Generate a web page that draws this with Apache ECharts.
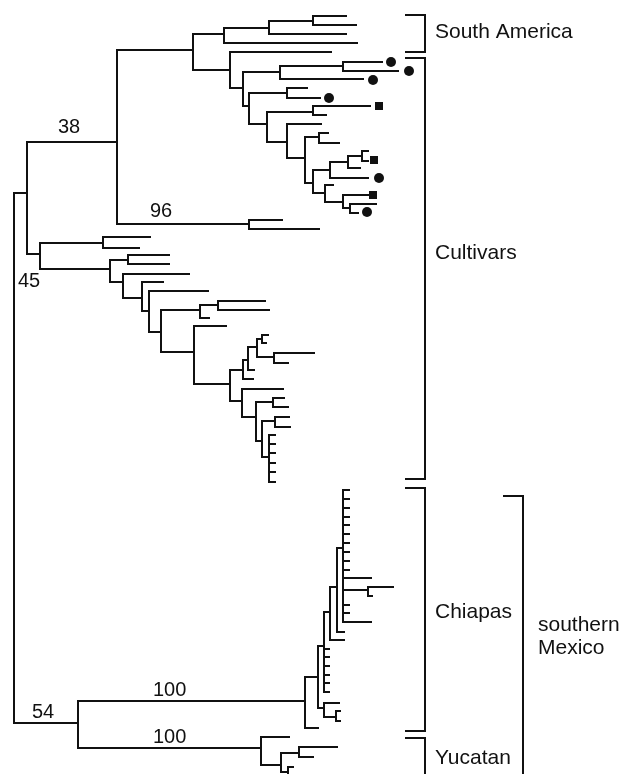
<!DOCTYPE html>
<html>
<head>
<meta charset="utf-8">
<script src="https://cdn.jsdelivr.net/npm/echarts@6.0.0/dist/echarts.min.js"></script>
<style>
  html, body {margin: 0; padding: 0; background: #fff;}
  #tree {width: 622px; height: 774px;}
</style>
</head>
<body>
<div id="tree"></div>
<script>
// each node: [id, parent id, branch end x, row y]; leaves have no id
var backbone = [
  ['root', '', 14, 458],
  ['a', 'root', 27, 193],
  ['b', 'a', 117, 142],
  ['c', 'a', 40, 254],
  ['mx', 'root', 78, 723]
];
var southAmerica = [
  ['p', 'b', 193, 50],
  ['sa', 'p', 224, 34],
  ['sa1', 'sa', 269, 28],
  ['sa2', 'sa1', 313, 21],
  ['', 'sa2', 346, 16], ['', 'sa2', 356, 25],
  ['', 'sa1', 346, 34],
  ['', 'sa', 357, 43]
];
var cultivarsUpper = [
  ['q', 'p', 230, 70],
  ['', 'q', 331, 52],
  ['s', 'q', 243, 88],
  ['t', 's', 280, 72],
  ['t1', 't', 343, 66], ['', 't1', 382, 62], ['', 't1', 398, 71],
  ['', 't', 363, 79],
  ['u', 's', 249, 106],
  ['u1', 'u', 287, 93], ['', 'u1', 307, 88], ['', 'u1', 320, 98],
  ['v', 'u', 267, 124],
  ['v1', 'v', 313, 112], ['', 'v1', 370, 106], ['', 'v1', 326, 115],
  ['w', 'v', 287, 142],
  ['', 'w', 321, 124],
  ['x', 'w', 305, 158],
  ['x1', 'x', 319, 137], ['', 'x1', 328, 133], ['', 'x1', 339, 143],
  ['y', 'x', 313, 183],
  ['z', 'y', 330, 170],
  ['z1', 'z', 348, 162],
  ['z2', 'z1', 362, 156], ['', 'z2', 368, 151], ['', 'z2', 368, 161],
  ['', 'z1', 360, 168],
  ['', 'z', 368, 178],
  ['y2', 'y', 325, 193],
  ['', 'y2', 333, 185],
  ['y3', 'y2', 343, 202],
  ['', 'y3', 372, 195],
  ['y4', 'y3', 350, 208], ['', 'y4', 376, 204], ['', 'y4', 358, 213],
  ['b96', 'b', 249, 224], ['', 'b96', 282, 220], ['', 'b96', 319, 229]
];
var cultivarsLower = [
  ['c1', 'c', 103, 243], ['', 'c1', 150, 237], ['', 'c1', 139, 248],
  ['d', 'c', 110, 269],
  ['d1', 'd', 128, 260], ['', 'd1', 169, 255], ['', 'd1', 169, 264],
  ['e', 'd', 123, 282], ['', 'e', 189, 274],
  ['f', 'e', 142, 298], ['', 'f', 163, 282],
  ['g', 'f', 149, 311], ['', 'g', 208, 291],
  ['h', 'g', 161, 332],
  ['i', 'h', 200, 310],
  ['i1', 'i', 218, 305], ['', 'i1', 265, 301], ['', 'i1', 269, 310],
  ['', 'i', 209, 318],
  ['j', 'h', 194, 352], ['', 'j', 226, 326],
  ['k', 'j', 230, 384],
  ['l', 'k', 243, 370],
  ['m', 'l', 248, 360],
  ['n', 'm', 257, 347],
  ['o', 'n', 262, 339], ['', 'o', 268, 335], ['', 'o', 266, 343],
  ['n2', 'n', 274, 357], ['', 'n2', 314, 353], ['', 'n2', 288, 363],
  ['', 'm', 254, 370],
  ['', 'l', 253, 379],
  ['p2', 'k', 242, 401], ['', 'p2', 283, 389],
  ['q2', 'p2', 256, 417],
  ['q3', 'q2', 273, 402], ['', 'q3', 284, 398], ['', 'q3', 288, 407],
  ['r2', 'q2', 262, 441],
  ['r3', 'r2', 275, 421], ['', 'r3', 289, 417], ['', 'r3', 290, 427],
  ['s2', 'r2', 269, 457],
  ['', 's2', 275, 435], ['', 's2', 275, 444], ['', 's2', 275, 453],
  ['', 's2', 275, 463], ['', 's2', 275, 472], ['', 's2', 275, 482]
];
var chiapas = [
  ['ch0', 'mx', 305, 701],
  ['ch1', 'ch0', 318, 677],
  ['', 'ch0', 318, 728],
  ['ch2', 'ch1', 324, 646],
  ['ch3', 'ch2', 330, 612],
  ['ch4', 'ch3', 337, 587],
  ['ch5', 'ch4', 343, 548],
  ['', 'ch5', 349, 490], ['', 'ch5', 349, 499], ['', 'ch5', 349, 508],
  ['', 'ch5', 349, 517], ['', 'ch5', 349, 525], ['', 'ch5', 349, 534],
  ['', 'ch5', 349, 543], ['', 'ch5', 349, 552], ['', 'ch5', 349, 561],
  ['', 'ch5', 349, 570], ['', 'ch5', 371, 578],
  ['ch6', 'ch5', 368, 590], ['', 'ch6', 393, 587], ['', 'ch6', 372, 596],
  ['', 'ch5', 349, 605], ['', 'ch5', 349, 613], ['', 'ch5', 371, 622],
  ['', 'ch4', 344, 632],
  ['', 'ch3', 344, 640],
  ['', 'ch2', 329, 649], ['', 'ch2', 329, 657], ['', 'ch2', 329, 666],
  ['', 'ch2', 329, 675], ['', 'ch2', 329, 683], ['', 'ch2', 329, 692],
  ['chd', 'ch1', 324, 708], ['', 'chd', 339, 703],
  ['che', 'chd', 336, 717], ['', 'che', 340, 711], ['', 'che', 340, 721]
];
var yucatan = [
  ['yu0', 'mx', 261, 748], ['', 'yu0', 289, 737],
  ['yu1', 'yu0', 281, 765],
  ['yu2', 'yu1', 299, 753], ['', 'yu2', 337, 747], ['', 'yu2', 313, 757],
  ['yu3', 'yu1', 288, 772], ['', 'yu3', 293, 767], ['', 'yu3', 293, 778]
];

// bootstrap support on branches
var supportNode = ['b', 'b96', 'c', 'mx', 'ch0', 'yu0'];
var supportValue = ['38', '96', '45', '54', '100', '100'];

// tip markers
var circleTips = [[391, 62], [409, 71], [373, 80], [329, 98], [379, 178], [367, 212]];
var squareTips = [[379, 106], [374, 160], [373, 195]];

// brackets on the right (tip rows covered)
var groupNames = ['South America', 'Cultivars', 'Chiapas', 'Yucatan', 'southern\nMexico'];
var groupFrom = [15, 58, 488, 738, 496];
var groupTo = [52, 479, 731, 800, 800];
var groupLevel = [0, 0, 0, 0, 1];

// layout only
var supportOffset = [[31, -15], [33, -13], [-9, 27], [18, -11], [75, -11], [75, -11]];
var groupLabelRow = [32, 253, 612, 758, 637];
var bracketX = [[405, 425], [503, 523]];
var groupLabelX = [435, 538];
var FONT = '"Liberation Sans", Arial, Helvetica, sans-serif';

var nodes = backbone.concat(southAmerica, cultivarsUpper, cultivarsLower, chiapas, yucatan);
var byId = {};
nodes.forEach(function (n) {
  if (n[0]) byId[n[0]] = {x: n[2], y: n[3], ys: []};
});
nodes.forEach(function (n) {
  if (n[1]) byId[n[1]].ys.push(n[3]);
});

var segments = [];
nodes.forEach(function (n) {
  if (n[1]) {
    segments.push([byId[n[1]].x, n[3], n[2], n[3]]);
  }
  if (n[0] && byId[n[0]].ys.length) {
    var ys = byId[n[0]].ys;
    segments.push([n[2], Math.min.apply(null, ys), n[2], Math.max.apply(null, ys)]);
  }
});

var supportData = supportNode.map(function (id, i) {
  var parentId = nodes.filter(function (n) { return n[0] === id; })[0][1];
  return [byId[parentId].x, byId[id].y, i];
});

var bracketData = groupNames.map(function (name, i) {
  return [groupFrom[i], groupTo[i], groupLevel[i], i];
});

var chart = echarts.init(document.getElementById('tree'));
chart.setOption({
  animation: false,
  backgroundColor: '#fff',
  grid: {left: 0, right: 0, top: 0, bottom: 0},
  xAxis: {type: 'value', min: 0, max: 622, show: false},
  yAxis: {type: 'value', min: 0, max: 774, inverse: true, show: false},
  series: [
    {
      type: 'custom',
      data: segments,
      encode: {x: [0, 2], y: [1, 3]},
      renderItem: function (params, api) {
        var p1 = api.coord([api.value(0), api.value(1)]);
        var p2 = api.coord([api.value(2), api.value(3)]);
        return {
          type: 'line',
          shape: {x1: p1[0], y1: p1[1], x2: p2[0], y2: p2[1]},
          style: {stroke: '#111', lineWidth: 2, lineCap: 'square'}
        };
      }
    },
    {
      type: 'scatter',
      data: circleTips,
      symbol: 'circle',
      symbolSize: 10,
      itemStyle: {color: '#111', opacity: 1}
    },
    {
      type: 'scatter',
      data: squareTips,
      symbol: 'rect',
      symbolSize: 8,
      itemStyle: {color: '#111', opacity: 1}
    },
    {
      type: 'custom',
      data: supportData,
      renderItem: function (params, api) {
        var i = api.value(2);
        var p = api.coord([api.value(0), api.value(1)]);
        return {
          type: 'text',
          x: p[0] + supportOffset[i][0],
          y: p[1] + supportOffset[i][1],
          style: {
            text: supportValue[i], fill: '#111', font: '20px ' + FONT,
            align: 'left', verticalAlign: 'middle',
            textAlign: 'left', textVerticalAlign: 'middle'
          }
        };
      }
    },
    {
      type: 'custom',
      data: bracketData,
      renderItem: function (params, api) {
        var lv = api.value(2);
        var i = api.value(3);
        var top = api.coord([bracketX[lv][0], api.value(0)]);
        var bot = api.coord([bracketX[lv][1], api.value(1)]);
        var lab = api.coord([groupLabelX[lv], groupLabelRow[i]]);
        return {
          type: 'group',
          children: [
            {
              type: 'polyline',
              shape: {points: [[top[0], top[1]], [bot[0], top[1]], [bot[0], bot[1]], [top[0], bot[1]]]},
              style: {stroke: '#111', lineWidth: 2, fill: null}
            },
            {
              type: 'text',
              x: lab[0],
              y: lab[1],
              style: {
                text: groupNames[i], fill: '#111', font: '21px ' + FONT, lineHeight: 23,
                align: 'left', verticalAlign: 'middle',
                textAlign: 'left', textVerticalAlign: 'middle'
              }
            }
          ]
        };
      }
    }
  ]
});
</script>
</body>
</html>
